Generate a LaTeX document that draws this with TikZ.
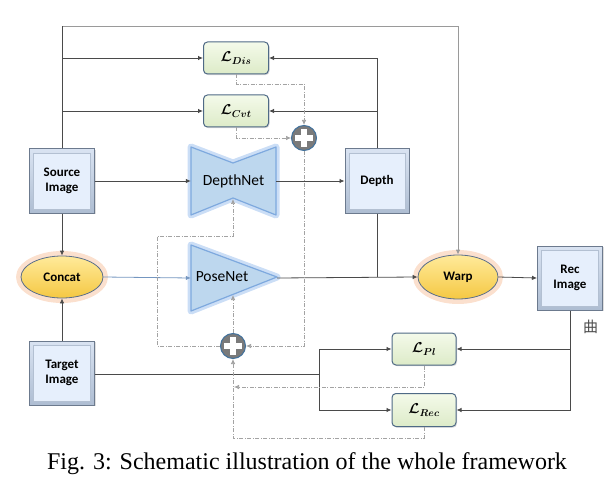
\documentclass[tikz,border=0pt]{standalone}
\usepackage{fontspec}
\usepackage{amsmath,amssymb,bm}
\setmainfont{Liberation Serif}
\setsansfont{Carlito}
\newfontfamily\cjkfont{Noto Sans CJK SC}
\usetikzlibrary{arrows.meta,shadows,calc}
\definecolor{linec}{HTML}{4A4A4A}
\definecolor{framec}{HTML}{9A9A9A}
\definecolor{dashc}{HTML}{A3A3A3}
\definecolor{boxedge}{HTML}{6C7A8E}
\definecolor{boxtop}{HTML}{D9E3F2}
\definecolor{boxbot}{HTML}{AEBDD2}
\definecolor{boxin}{HTML}{E6EFFC}
\definecolor{boxinb}{HTML}{B3C0D2}
\definecolor{lossfillt}{HTML}{F4FAEA}
\definecolor{lossfillb}{HTML}{DDEBC8}
\definecolor{lossedge}{HTML}{4F6A86}
\definecolor{yelt}{HTML}{FFEA9A}
\definecolor{yelb}{HTML}{F5C843}
\definecolor{yeledge}{HTML}{5B6F8A}
\definecolor{glowor}{HTML}{F8C7A6}
\definecolor{netfill}{HTML}{BDD7EE}
\definecolor{netedge}{HTML}{7EA9DE}
\definecolor{netglow}{HTML}{A9C8F0}
\definecolor{plusfill}{HTML}{7A7A7A}
\definecolor{plusedge}{HTML}{41719C}
\tikzset{
  conn/.style={draw=linec, line width=0.8pt},
  fconn/.style={draw=framec, line width=0.9pt},
  arr/.style={-{Latex[length=5pt,width=4.5pt]}},
  dconn/.style={draw=dashc, line width=0.7pt, dash pattern=on 4pt off 1.5pt on 1pt off 1.5pt},
  imgbox/.style={rectangle, minimum width=65pt, minimum height=64pt, inner sep=0pt,
    top color=boxtop, bottom color=boxbot, draw=boxedge, line width=1pt,
    font=\sffamily\bfseries\fontsize{13}{15}\selectfont, align=center,
    drop shadow={shadow xshift=1pt, shadow yshift=-1pt, opacity=0.25},
    path picture={\draw[fill=boxin, draw=boxinb, line width=0.6pt]
      ([shift={(4pt,-4pt)}]path picture bounding box.north west) rectangle
      ([shift={(-4pt,4pt)}]path picture bounding box.south east);}},
  lossbox/.style={rectangle, rounded corners=4pt, minimum width=65pt, minimum height=32pt,
    inner sep=0pt, top color=lossfillt, bottom color=lossfillb, draw=lossedge, line width=1pt,
    drop shadow={shadow xshift=1pt, shadow yshift=-1.2pt, opacity=0.3},
    font=\fontsize{14}{16}\selectfont},
  yelell/.style={ellipse, inner sep=0pt, top color=yelt, bottom color=yelb, draw=yeledge,
    line width=0.8pt, font=\sffamily\bfseries\fontsize{13}{15}\selectfont},
  plusc/.style={circle, minimum size=25pt, inner sep=0pt, fill=plusfill, draw=plusedge, line width=1pt,
    path picture={\fill[white] ([shift={(-9pt,-3.3pt)}]path picture bounding box.center) rectangle ([shift={(9pt,3.3pt)}]path picture bounding box.center);
      \fill[white] ([shift={(-3.3pt,-9pt)}]path picture bounding box.center) rectangle ([shift={(3.3pt,9pt)}]path picture bounding box.center);}},
  ghost/.style={rectangle, inner sep=0pt},
}
\usetikzlibrary{shapes.geometric}
\begin{document}
\begin{tikzpicture}[x=1pt,y=-1pt]
\useasboundingbox (0,0) rectangle (610,481);
% ---- glows
\fill[glowor, opacity=0.55] (62,277) ellipse [x radius=46, y radius=26];
\fill[glowor, opacity=0.55] (458,277) ellipse [x radius=45, y radius=27];
\draw[netglow, line width=7pt, line join=round, opacity=0.6]
  (191,147) -- (233,163) -- (276,147) -- (276,215) -- (233,198) -- (191,215) -- cycle;
\draw[netglow, line width=7pt, line join=round, opacity=0.6]
  (191,245) -- (277,277) -- (191,311) -- cycle;
% ---- net shapes
\filldraw[fill=netfill, draw=netedge, line width=1.2pt, line join=round]
  (191,147) -- (233,163) -- (276,147) -- (276,215) -- (233,198) -- (191,215) -- cycle;
\filldraw[fill=netfill, draw=netedge, line width=1.2pt, line join=round]
  (191,245) -- (277,277) -- (191,311) -- cycle;
\node[ghost, minimum width=85pt, minimum height=68pt, font=\sffamily\fontsize{15.5}{18}\selectfont] (dnet) at (233.5,181) {DepthNet};
\node[ghost, minimum width=86pt, minimum height=66pt] (pnet) at (234,278) {};
\node[font=\sffamily\fontsize{15.5}{18}\selectfont] (pnettext) at (222,277) {PoseNet};
\coordinate (dnetbot) at (233,199);
\coordinate (pnetbot) at (233,295);
% ---- nodes
\node[imgbox] (src) at (62,181) {Source\\Image};
\node[imgbox] (tgt) at (62,373) {Target\\Image};
\node[imgbox, minimum width=64pt] (depth) at (377,181) {Depth};
\node[imgbox] (rec) at (570,278) {Rec\\Image};
\node[yelell, minimum width=82pt, minimum height=42pt] (concat) at (62,277) {Concat};
\node[yelell, minimum width=80pt, minimum height=44pt] (warp) at (458,277) {Warp};
\node[lossbox] (ldis) at (236,58) {$\boldsymbol{\mathcal{L}_{Dis}}$};
\node[lossbox] (lcvt) at (236,111) {$\boldsymbol{\mathcal{L}_{Cvt}}$};
\node[lossbox, minimum width=64pt] (lpl) at (424,349) {$\boldsymbol{\mathcal{L}_{Pl}}$};
\node[lossbox, minimum width=64pt, minimum height=33pt] (lrec) at (424,410) {$\boldsymbol{\mathcal{L}_{Rec}}$};
\node[plusc] (plusA) at (304,138) {};
\node[plusc] (plusB) at (233,346) {};
% ---- frame
\coordinate (tr) at (458,26);
\draw[fconn, arr] (src.north) |- (tr) -- (warp.north);
\draw[conn] (src.north) -- (62,26);
\draw[conn, arr] (src.north |- ldis.west) -- (ldis.west);
\draw[conn, arr] (src.north |- lcvt.west) -- (lcvt.west);
\draw[conn, arr] (depth.north) |- (ldis.east);
\draw[conn, arr] (depth.north |- lcvt.east) -- (lcvt.east);
\draw[conn, arr] (src.east) -- (dnet.west);
\draw[conn, arr] (dnet.east) -- (depth.west);
\draw[conn, arr] (src.south) -- (concat.north);
\draw[conn, arr] (tgt.north) -- (concat.south);
\draw[draw=netedge!80!linec, line width=0.8pt, -{Latex[length=5pt,width=4.5pt]}] (concat.east) -- (pnet.west);
\draw[conn, arr] (pnet.east) -- (warp.west);
\draw[conn] (depth.south) -- (depth.south |- warp.west);
\draw[conn, arr] (warp.east) -- (rec.west);
\draw[conn, arr] (rec.south) |- (lrec.east);
\draw[conn, arr] (rec.south |- lpl.east) -- (lpl.east);
\coordinate (j) at (319,374);
\draw[conn] (tgt.east |- j) -- (j);
\draw[conn, arr] (j) |- (lpl.west);
\draw[conn, arr] (j) |- (lrec.west);
% ---- dashed feedback
\draw[dconn, arr] (ldis.south) -- (236,84) -| (plusA.north);
\draw[dconn, arr] (lcvt.south) |- (plusA.west);
\draw[dconn, arr] (plusA.south) |- (plusB.east);
\draw[dconn, arr] (plusB.north) -- (pnetbot);
\draw[dconn, arr] (plusB.west) -- (157,346) -- (157,236) -- (233,236) -- (dnetbot);
\draw[dconn, arr] (lpl.south) |- (234,387);
\draw[dconn, arr] (lrec.south) |- (233,438) -- (plusB.south);
% ---- stray glyph
\node[anchor=west, inner sep=0pt, text=black!70, font=\cjkfont\fontsize{15}{17}\selectfont] (stray) at (583,327) {曲};
% ---- caption
\node[font=\fontsize{24}{28}\selectfont] (cap) at (307,464) {Fig. 3: Schematic illustration of the whole framework};
\end{tikzpicture}
\end{document}
